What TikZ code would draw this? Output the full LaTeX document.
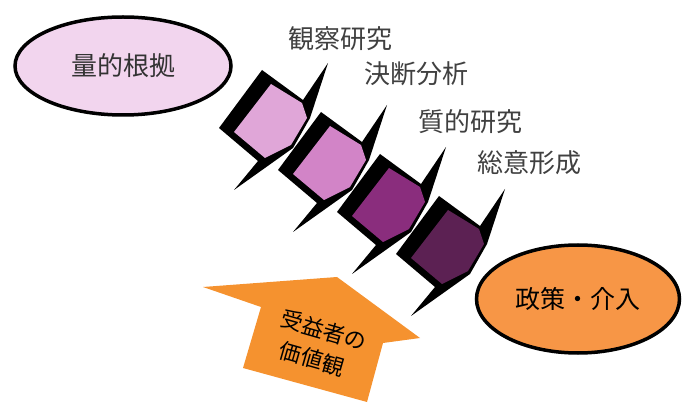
\documentclass[tikz,border=0pt]{standalone}
\usepackage{fontspec}
\setmainfont{Noto Sans CJK JP}
\usetikzlibrary{shapes.geometric}
\definecolor{sA}{HTML}{E0A6D8}
\definecolor{sB}{HTML}{D284C7}
\definecolor{sC}{HTML}{8A2D7D}
\definecolor{sD}{HTML}{5C2153}
\definecolor{ellpink}{HTML}{F2D5EE}
\definecolor{ellorange}{HTML}{F79646}
\definecolor{arroworange}{HTML}{F5922F}
\definecolor{labelgray}{HTML}{404040}
\tikzset{
  oval/.style={ellipse, draw=black, line width=3.5pt, inner sep=0pt},
  lbl/.style={text=labelgray, font=\fontsize{26}{30}\selectfont, inner sep=0pt},
  valtext/.style={rotate=-16, text=black, font=\fontsize{22}{26}\selectfont, inner sep=0pt},
}
\begin{document}
\begin{tikzpicture}[x=1pt,y=-1pt]
\useasboundingbox (0,0) rectangle (688,403);
% ellipses
\node[oval, fill=ellpink, minimum width=216pt, minimum height=98pt, text=black!80,
      font=\fontsize{26}{30}\selectfont] (quant) at (123,66) {量的根拠};
\node[oval, fill=ellorange, minimum width=203pt, minimum height=108pt, text=black,
      font=\fontsize{25}{30}\selectfont] (policy) at (578,299) {政策・介入};
% step shapes
\foreach \i/\col in {0/sA,1/sB,2/sC,3/sD}{
  \begin{scope}[shift={(262+59*\i,70+42*\i)}]
    \fill[black] (0,0) -- (41,30) -- (66,-7) -- (48,48) -- (31,78) -- (-28,120)
      -- (-4,91) -- (-43,58) -- cycle;
    \fill[\col] (9,14) -- (40,33) -- (45,48) -- (29,75) -- (3,88) -- (-28,62) -- cycle;
  \end{scope}
}
% labels
\node[lbl] (l1) at (340,39) {観察研究};
\node[lbl] (l2) at (416,74) {決断分析};
\node[lbl] (l3) at (470,122) {質的研究};
\node[lbl] (l4) at (529,163) {総意形成};
% arrow
\fill[arroworange] (203,287) -- (337,277) -- (420,338) -- (383,343) -- (367,402)
  -- (243,368) -- (261,307) -- cycle;
\node[valtext] (val1) at (324,330) {受益者の};
\node[valtext] (val2) at (312,359) {価値観};
\end{tikzpicture}
\end{document}
